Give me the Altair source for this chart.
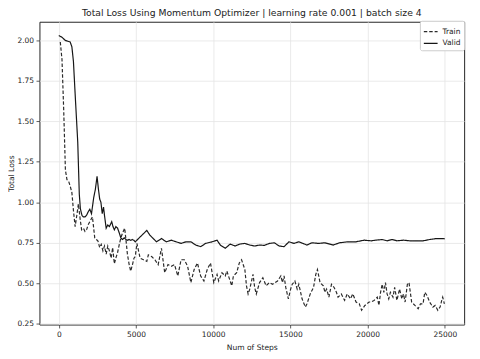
import altair as alt
import pandas as pd

# ---- data ----
train_steps = [100, 210, 320, 430, 530, 640, 740, 850, 950, 1060, 1170, 1270, 1380, 1480, 1600, 1700,
               1800, 1900, 2010, 2120, 2180, 2250, 2330, 2440, 2540, 2650, 2750, 2860, 2960, 3070, 3175,
               3280, 3390, 3490, 3600, 3710, 3810, 3920, 4020, 4130, 4270, 4360, 4445, 4550, 4655, 4760,
               4870, 4955, 5060, 5270, 5485, 5700, 5800, 6015, 6225, 6437, 6650, 6860, 7073, 7285, 7497,
               7708, 7920, 8132, 8343, 8555, 8767, 8980, 9190, 9400, 9615, 9825, 10040, 10250, 10355,
               10567, 10780, 10885, 11097, 11203, 11308, 11520, 11690, 11838, 12050, 12156, 12262, 12368,
               12580, 12685, 12790, 13003, 13215, 13427, 13640, 13850, 14168, 14380, 14486, 14590, 14700,
               14867, 15015, 15120, 15290, 15438, 15544, 15755, 15967, 16073, 16285, 16497, 16645, 16750,
               16920, 17132, 17238, 17344, 17492, 17660, 17831, 17980, 18085, 18297, 18510, 18678, 18890,
               19040, 19250, 19462, 19610, 19822, 20097, 20203, 20415, 20627, 20732, 20838, 20944, 21050,
               21156, 21262, 21368, 21474, 21643, 21750, 21897, 22067, 22215, 22320, 22427, 22575, 22680,
               22850, 23062, 23275, 23422, 23590, 23700, 23846, 24015, 24227, 24375, 24545, 24693, 24800,
               24862, 24970]
train_loss = [1.99, 1.88, 1.57, 1.20, 1.14, 1.13, 1.10, 1.06, 0.95, 0.85, 0.92, 0.99, 0.90, 0.83, 0.84, 0.82,
              0.83, 0.86, 0.88, 0.90, 0.91, 0.85, 0.78, 0.77, 0.76, 0.72, 0.74, 0.70, 0.73, 0.68, 0.73,
              0.70, 0.655, 0.72, 0.62, 0.66, 0.69, 0.74, 0.78, 0.81, 0.84, 0.76, 0.68, 0.62, 0.575, 0.61,
              0.655, 0.665, 0.746, 0.655, 0.645, 0.635, 0.675, 0.665, 0.645, 0.615, 0.716, 0.565, 0.615, 0.605, 0.615,
              0.545, 0.645, 0.645, 0.605, 0.504, 0.585, 0.625, 0.545, 0.514, 0.585, 0.625, 0.504, 0.555, 0.514,
              0.565, 0.545, 0.575, 0.514, 0.484, 0.545, 0.565, 0.625, 0.645, 0.585, 0.484, 0.434, 0.464,
              0.555, 0.474, 0.434, 0.504, 0.534, 0.484, 0.504, 0.494, 0.514, 0.545, 0.504, 0.545, 0.474,
              0.404, 0.464, 0.494, 0.514, 0.464, 0.494, 0.404, 0.353, 0.373, 0.434, 0.474, 0.555, 0.585,
              0.504, 0.484, 0.444, 0.464, 0.414, 0.494, 0.474, 0.444, 0.414, 0.434, 0.394, 0.434, 0.404,
              0.434, 0.384, 0.373, 0.333, 0.363, 0.384, 0.384, 0.394, 0.414, 0.363, 0.444, 0.494, 0.444,
              0.504, 0.434, 0.404, 0.444, 0.414, 0.474, 0.394, 0.464, 0.404, 0.434, 0.384, 0.494, 0.504,
              0.384, 0.363, 0.343, 0.373, 0.373, 0.444, 0.424, 0.384, 0.353, 0.363, 0.333, 0.353, 0.394,
              0.414, 0.373]

valid_steps = [0, 200, 420, 740, 850, 950, 1060, 1230, 1330, 1400, 1500, 1590, 1700, 1800, 1900, 2010,
               2120, 2265, 2370, 2480, 2570, 2650, 2730, 2815, 2900, 2960, 3070, 3175, 3280, 3430, 3510,
               3600, 3700, 3810, 3920, 4020, 4130, 4240, 4350, 4450, 4550, 4660, 4760, 4870, 4955, 5270,
               5485, 5700, 5908, 6120, 6330, 6650, 6967, 7285, 7600, 7920, 8238, 8555, 8873, 9190, 9510,
               9930, 10250, 10460, 10780, 11100, 11415, 11732, 12050, 12368, 12685, 13003, 13320, 13640,
               13957, 14274, 14590, 14910, 15227, 15544, 16073, 16390, 16814, 17238, 17767, 18190, 18720,
               19250, 19777, 20250, 20520, 20944, 21262, 21580, 21897, 22320, 22744, 23168, 23590, 24015,
               24440, 24862, 25000]
valid_loss = [2.03, 2.02, 2.00, 1.99, 1.96, 1.87, 1.67, 1.37, 1.05, 0.96, 0.92, 0.91, 0.91, 0.92, 0.94, 0.957,
              0.93, 1.03, 1.08, 1.16, 1.08, 1.02, 1.00, 0.93, 0.97, 0.92, 0.84, 0.86, 0.85, 0.88, 0.85,
              0.83, 0.85, 0.84, 0.81, 0.78, 0.77, 0.78, 0.77, 0.765, 0.77, 0.765, 0.77, 0.765, 0.756, 0.786,
              0.806, 0.826, 0.796, 0.776, 0.756, 0.776, 0.756, 0.766, 0.756, 0.746, 0.756, 0.756, 0.736, 0.726, 0.746,
              0.756, 0.766, 0.736, 0.716, 0.742, 0.730, 0.742, 0.746, 0.736, 0.730, 0.736, 0.734, 0.746,
              0.750, 0.730, 0.726, 0.756, 0.746, 0.756, 0.736, 0.750, 0.746, 0.750, 0.736, 0.750, 0.756,
              0.756, 0.766, 0.762, 0.766, 0.770, 0.762, 0.770, 0.762, 0.766, 0.762, 0.762, 0.762, 0.770,
              0.776, 0.776, 0.774]

x_ticks = [0, 5000, 10000, 15000, 20000, 25000]
y_ticks = [0.25, 0.50, 0.75, 1.00, 1.25, 1.50, 1.75, 2.00]
series_names = ["Train", "Valid"]

df = pd.concat([
    pd.DataFrame({"step": train_steps, "loss": train_loss, "series": "Train"}),
    pd.DataFrame({"step": valid_steps, "loss": valid_loss, "series": "Valid"}),
])

grid_color = "#e4e4e4"
legend = alt.Legend(title=None, orient="none", legendX=387, legendY=-1)

chart = alt.Chart(df).mark_line(strokeWidth=1.2).encode(
    x=alt.X("step:Q",
            scale=alt.Scale(domain=[-1250, 26250], nice=False, zero=False),
            axis=alt.Axis(title="Num of Steps", values=x_ticks, format="d",
                          titleY=23.5, titleBaseline="middle")),
    y=alt.Y("loss:Q",
            scale=alt.Scale(domain=[0.245, 2.115], nice=False, zero=False),
            axis=alt.Axis(title="Total Loss", values=y_ticks, format=".2f",
                          titleX=-28, titleBaseline="middle")),
    color=alt.Color("series:N",
                    scale=alt.Scale(domain=series_names, range=["#2a2a2a", "#161616"]),
                    legend=legend),
    strokeDash=alt.StrokeDash("series:N",
                              scale=alt.Scale(domain=series_names, range=[[3.5, 2], [1, 0]]),
                              legend=legend),
).properties(
    width=432,
    height=308,
    title=alt.TitleParams(
        "Total Loss Using Momentum Optimizer | learning rate 0.001 | batch size 4",
        fontSize=9.4, fontWeight="normal", color="#222222", offset=2,
        font="DejaVu Sans"),
    autosize=alt.AutoSizeParams(type="none"),
    padding={"left": 32, "top": 11, "right": 8, "bottom": 28},
).configure(
    font="DejaVu Sans",
    background="white",
).configure_view(
    stroke="#222222", strokeWidth=1,
).configure_axis(
    domain=False,
    grid=True, gridColor=grid_color, gridWidth=0.8,
    tickColor="#333333", tickSize=3.5, tickWidth=0.8,
    labelFontSize=7.6, labelColor="#222222", labelPadding=2.5,
    titleFontSize=7.7, titleFontWeight="normal", titleColor="#222222",
).configure_legend(
    strokeColor="#cccccc", fillColor="white", padding=3, cornerRadius=2,
    labelFontSize=7.6, labelColor="#222222", labelOffset=4,
    symbolType="stroke", symbolSize=196, symbolStrokeWidth=1.2,
    rowPadding=0,
)

chart.save("out.html", embed_options={"renderer": "svg", "actions": False})
